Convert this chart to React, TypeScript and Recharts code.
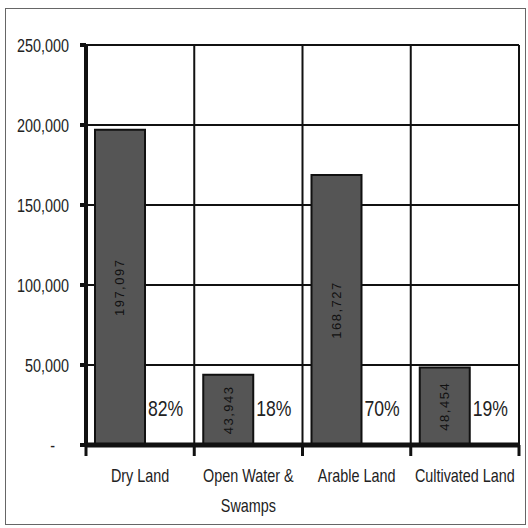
import { BarChart, Bar, XAxis, YAxis, CartesianGrid, LabelList } from 'recharts'

const categories = ['Dry Land', 'Open Water & Swamps', 'Arable Land', 'Cultivated Land']
const areas = [197097, 43943, 168727, 48454]
const shares = ['82%', '18%', '70%', '19%']
const yTicks = [0, 50000, 100000, 150000, 200000, 250000]

const data = categories.map((name, i) => ({ name, area: areas[i], share: shares[i] }))

const W = 528
const H = 528
const margin = { top: 45, right: 9, left: 0, bottom: 18 }
const Y_AXIS_W = 86
const X_AXIS_H = 65
const PLOT_LEFT = margin.left + Y_AXIS_W
const PLOT_W = W - PLOT_LEFT - margin.right
const PLOT_BOTTOM = H - margin.bottom - X_AXIS_H
const BAND = PLOT_W / categories.length

const FONT = '"Liberation Sans", Arial, sans-serif'
const INK = '#111'
const TEXT = '#222'

const fmt = (v: number) => v.toLocaleString('en-US')

function wrap(text: string, max = 15) {
  const lines: string[] = []
  let cur = ''
  for (const w of text.split(' ')) {
    const next = cur ? cur + ' ' + w : w
    if (next.length > max && cur) {
      lines.push(cur)
      cur = w
    } else cur = next
  }
  lines.push(cur)
  return lines
}

// no Arial Narrow installed, so squeeze Liberation Sans horizontally
const Narrow = ({ x, y, size, anchor = 'start', baseline, children }: any) => (
  <text
    transform={`translate(${x} ${y}) scale(0.8 1)`}
    textAnchor={anchor}
    dominantBaseline={baseline}
    fontFamily={FONT}
    fontSize={size}
    fill={TEXT}
  >
    {children}
  </text>
)

const YTick = ({ x, y, payload }: any) => {
  const v = payload.value as number
  return (
    <Narrow x={v === 0 ? x - 14 : x} y={y} size={18} anchor="end" baseline="central">
      {v === 0 ? '-' : fmt(v)}
    </Narrow>
  )
}

const XTick = ({ x, index, payload }: any) => {
  const lines = wrap(payload.value)
  const left = x - BAND / 2
  return (
    <g>
      <line x1={left} x2={left} y1={PLOT_BOTTOM} y2={PLOT_BOTTOM + 11} stroke={INK} strokeWidth={3} />
      {index === categories.length - 1 && (
        <line x1={x + BAND / 2} x2={x + BAND / 2} y1={PLOT_BOTTOM} y2={PLOT_BOTTOM + 11} stroke={INK} strokeWidth={3} />
      )}
      {lines.map((l, i) => (
        <Narrow key={i} x={x} y={PLOT_BOTTOM + 37 + i * 30} size={18} anchor="middle">
          {l}
        </Narrow>
      ))}
    </g>
  )
}

const ValueLabel = ({ x, y, width, height, value }: any) => {
  const cx = x + width / 2
  const cy = y + height / 2
  return (
    <text
      x={cx}
      y={cy}
      transform={`rotate(-90 ${cx} ${cy})`}
      textAnchor="middle"
      dominantBaseline="central"
      fontFamily={FONT}
      fontSize={13}
      letterSpacing={1.5}
      fill={INK}
    >
      {fmt(value)}
    </text>
  )
}

const ShareLabel = ({ x, width, value }: any) => (
  <Narrow x={x + width + 3} y={PLOT_BOTTOM - 37} size={22} baseline="central">
    {value}
  </Narrow>
)

export default function App() {
  return (
    <div style={{ position: 'absolute', left: 0, top: 0, width: W, height: H, background: '#fff' }}>
      <div
        style={{
          position: 'absolute',
          left: 5,
          top: 8,
          width: 519,
          height: 515,
          border: '1.5px solid #666',
        }}
      />
      <BarChart width={W} height={H} data={data} margin={margin} barGap={0}>
        <CartesianGrid
          stroke={INK}
          strokeWidth={2}
          verticalCoordinatesGenerator={() =>
            categories.map((_, i) => PLOT_LEFT + i * BAND).concat(PLOT_LEFT + PLOT_W)
          }
        />
        <XAxis
          dataKey="name"
          height={X_AXIS_H}
          tickLine={false}
          axisLine={{ stroke: INK, strokeWidth: 5 }}
          tick={<XTick />}
          interval={0}
        />
        <YAxis
          width={Y_AXIS_W}
          domain={[0, 250000]}
          ticks={yTicks}
          tickSize={6}
          tickMargin={11}
          tickLine={{ stroke: INK, strokeWidth: 4 }}
          axisLine={{ stroke: INK, strokeWidth: 4 }}
          tick={<YTick />}
        />
        <Bar dataKey="area" barSize={50} fill="#555" stroke={INK} strokeWidth={2} isAnimationActive={false}>
          <LabelList dataKey="area" content={<ValueLabel />} />
          <LabelList dataKey="share" content={<ShareLabel />} />
        </Bar>
        <Bar dataKey="spacer" barSize={40} fill="none" isAnimationActive={false} />
      </BarChart>
    </div>
  )
}
